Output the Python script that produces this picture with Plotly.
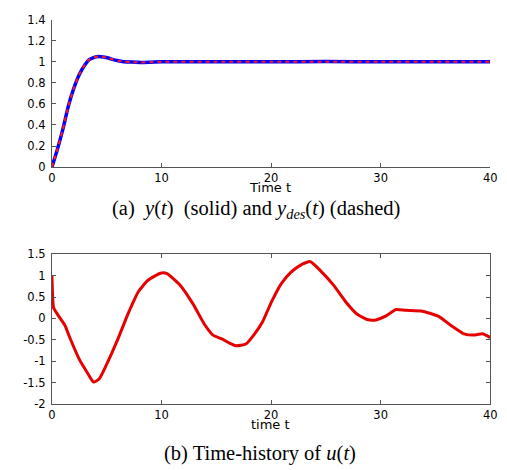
import plotly.graph_objects as go

# ---- data ----
t_y = [0, 0.5, 1.0, 1.5, 2.0, 2.5, 3.0, 3.4, 3.8, 4.25, 4.7, 5.15, 5.6, 6.05, 6.6, 7.25, 8.1, 9, 10, 15, 20, 25, 30, 35, 40]
y_out = [0, 0.17, 0.36, 0.58, 0.75, 0.88, 0.97, 1.02, 1.04, 1.05, 1.045, 1.035, 1.02, 1.01, 1.0, 0.997, 0.994, 0.996, 0.999, 1.0, 1.0, 1.002, 1.0, 1.0, 1.0]
y_des = [0, 0.17, 0.36, 0.58, 0.75, 0.88, 0.97, 1.02, 1.04, 1.05, 1.045, 1.035, 1.02, 1.01, 1.0, 0.997, 0.994, 0.996, 0.999, 1.0, 1.0, 1.0, 1.0, 1.0, 1.0]

t_u = [0, 0.05, 0.15, 0.6, 1.2, 1.6, 2.5, 3.3, 3.8, 4.3, 5.2, 6.1, 7.0, 7.9, 8.75, 9.9, 10.5,
       11.7, 12.9, 13.9, 14.7, 15.6, 16.2, 16.8, 17.7, 18.5, 19.2, 20.06, 20.95, 21.8, 22.7,
       23.6, 24.5, 25.7, 26.9, 27.8, 28.7, 29.45, 30.5, 31.4, 32.3, 33.8, 35.3, 36.45, 37.6,
       38.5, 39.3, 40]
u = [1.0, 0.6, 0.25, 0.06, -0.17, -0.43, -0.96, -1.3, -1.49, -1.42, -0.96, -0.43, 0.14, 0.63,
     0.89, 1.06, 1.05, 0.78, 0.33, -0.13, -0.39, -0.49, -0.58, -0.64, -0.6, -0.36, -0.09, 0.4,
     0.82, 1.08, 1.25, 1.33, 1.12, 0.78, 0.36, 0.11, -0.02, -0.04, 0.06, 0.21, 0.19, 0.17, 0.05,
     -0.17, -0.36, -0.39, -0.36, -0.45]

x_ticks = [0, 10, 20, 30, 40]
y1_ticks = [0, 0.2, 0.4, 0.6, 0.8, 1, 1.2, 1.4]
y1_labels = ["0", "0.2", "0.4", "0.6", "0.8", "1", "1.2", "1.4"]
y2_ticks = [-2, -1.5, -1, -0.5, 0, 0.5, 1, 1.5]
y2_labels = ["-2", "-1.5", "-1", "-0.5", "0", "0.5", "1", "1.5"]

W, H = 507, 470
def px(v):
    return v / W
def py(v):
    return 1 - v / H

tickfont = dict(family="DejaVu Sans", size=11.5, color="black")
axcol = "#555555"

fig = go.Figure()
fig.add_trace(go.Scatter(x=t_y, y=y_out, mode="lines", line=dict(color="#0000ff", width=3.5, shape="spline", smoothing=0.6), xaxis="x", yaxis="y"))
fig.add_trace(go.Scatter(x=t_y, y=y_des, mode="lines", line=dict(color="#ff1a1a", width=2, dash="4px,4px", shape="spline", smoothing=0.6), xaxis="x", yaxis="y"))
fig.add_trace(go.Scatter(x=t_u, y=u, mode="lines", line=dict(color="#e60000", width=3, shape="spline", smoothing=0.5), xaxis="x2", yaxis="y2"))

common_x = dict(range=[0, 40], tickvals=x_ticks, ticktext=[str(v) for v in x_ticks], ticks="inside", ticklen=4,
                tickcolor=axcol, showline=True, linecolor=axcol, linewidth=1, showgrid=False, zeroline=False,
                tickfont=tickfont, domain=[px(49), px(497)])
common_y = dict(ticks="inside", ticklen=4, tickcolor=axcol, showline=True, linecolor=axcol, linewidth=1,
                showgrid=False, zeroline=False, tickfont=tickfont, ticklabelstandoff=3)

fig.update_layout(
    width=W, height=H, margin=dict(l=0, r=0, t=0, b=0),
    paper_bgcolor="white", plot_bgcolor="white", showlegend=False,
    xaxis=dict(**common_x, anchor="y", mirror=False),
    yaxis=dict(range=[0, 1.4], tickvals=y1_ticks, ticktext=y1_labels, domain=[py(165), py(13)], anchor="x", **common_y),
    xaxis2=dict(**common_x, anchor="y2", mirror="ticks"),
    yaxis2=dict(range=[-2, 1.5], tickvals=y2_ticks, ticktext=y2_labels, domain=[py(409), py(255)], anchor="x2",
                mirror="ticks", **common_y),
    annotations=[
        dict(text="Time t", x=px(272), y=py(186), xref="paper", yref="paper", showarrow=False,
             xanchor="center", yanchor="middle", font=dict(family="DejaVu Sans", size=13, color="black")),
        dict(text="time t", x=px(272), y=py(430), xref="paper", yref="paper", showarrow=False,
             xanchor="center", yanchor="middle", font=dict(family="DejaVu Sans", size=13, color="black")),
        dict(text="(a)&nbsp; <i>y</i>(<i>t</i>)&nbsp; (solid) and <i>y<sub>des</sub></i>(<i>t</i>) (dashed)",
             x=px(258), y=py(209), xref="paper", yref="paper", showarrow=False,
             xanchor="center", yanchor="middle", font=dict(family="Liberation Serif", size=20.5, color="black")),
        dict(text="(b) Time-history of <i>u</i>(<i>t</i>)",
             x=px(262), y=py(460), xref="paper", yref="paper", showarrow=False,
             xanchor="center", yanchor="middle", font=dict(family="Liberation Serif", size=20.5, color="black")),
    ],
)

fig.write_html("out.html", config={"displayModeBar": False}, post_script="document.body.style.margin='0px';")
